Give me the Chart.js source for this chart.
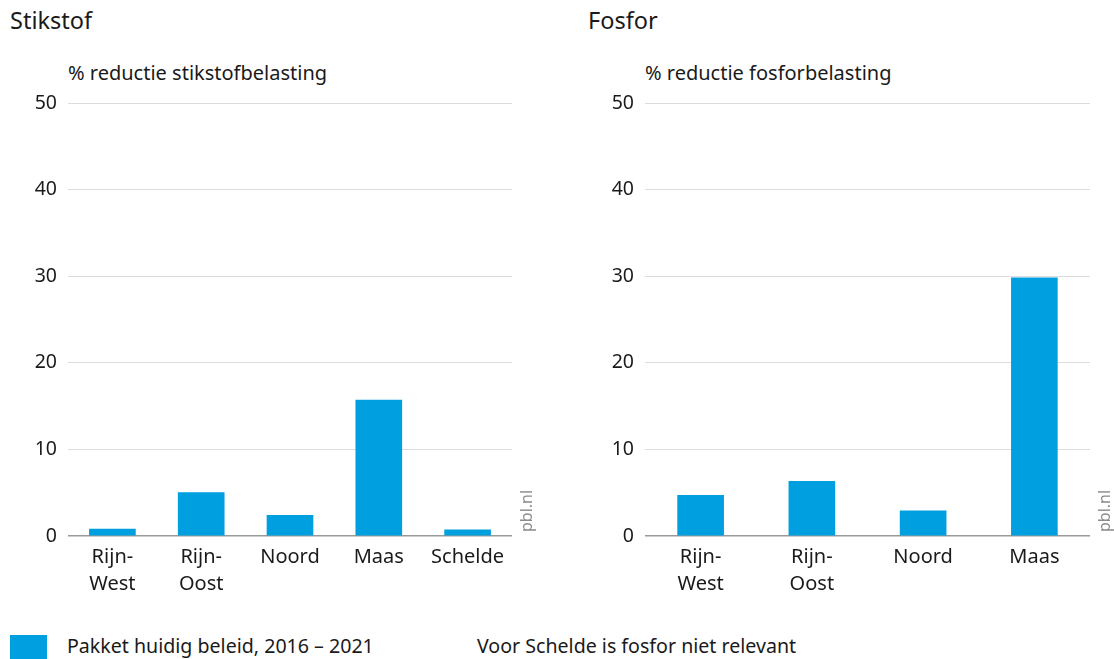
<!DOCTYPE html>
<html>
<head>
<meta charset="utf-8">
<script src="https://cdn.jsdelivr.net/npm/chart.js@4"></script>
<style>
  body { margin: 0; background: #fff; width: 1114px; height: 659px; overflow: hidden; position: relative;
         font-family: "Noto Sans", sans-serif; color: #1a1a1a; }
  .abs { position: absolute; white-space: nowrap; }
  .title { font-size: 23.5px; top: 4px; }
  .sub { font-size: 20px; top: 59px; }
  .leg { font-size: 19.6px; top: 632px; }
  #box1 { position: absolute; left: 0; top: 0; width: 560px; height: 600px; }
  #box2 { position: absolute; left: 577px; top: 0; width: 537px; height: 600px; }
  .swatch { position: absolute; left: 10px; top: 635px; width: 37px; height: 24px; background: #009fe0; }
</style>
</head>
<body>
<div class="abs title" style="left:10px">Stikstof</div>
<div class="abs title" style="left:588px">Fosfor</div>
<div class="abs sub" style="left:68px">% reductie stikstofbelasting</div>
<div class="abs sub" style="left:645px">% reductie fosforbelasting</div>
<div id="box1"><canvas id="stikstofChart"></canvas></div>
<div id="box2"><canvas id="fosforChart"></canvas></div>
<div class="swatch"></div>
<div class="abs leg" style="left:67px">Pakket huidig beleid, 2016 – 2021</div>
<div class="abs leg" style="left:477px">Voor Schelde is fosfor niet relevant</div>

<script>
// data
const stikstofLabels = [["Rijn-", "West"], ["Rijn-", "Oost"], "Noord", "Maas", "Schelde"];
const stikstofValues = [0.8, 5.0, 2.4, 15.7, 0.7];

const fosforLabels = [["Rijn-", "West"], ["Rijn-", "Oost"], "Noord", "Maas"];
const fosforValues = [4.7, 6.3, 2.9, 29.8];

const seriesName = "Pakket huidig beleid, 2016 – 2021";
const yTicks = [0, 10, 20, 30, 40, 50];

const BLUE = "#009fe0";
const FONT = "'Noto Sans', sans-serif";

// vertical "pbl.nl" credit to the right of the plot
const pblTag = {
  id: "pblTag",
  afterDraw(chart) {
    const { ctx, chartArea } = chart;
    ctx.save();
    ctx.translate(chartArea.right + 15, chartArea.bottom - 4);
    ctx.rotate(-Math.PI / 2);
    ctx.fillStyle = "#8c8c8c";
    ctx.font = "16px " + FONT;
    ctx.textAlign = "left";
    ctx.textBaseline = "middle";
    ctx.fillText("pbl.nl", 0, 0);
    ctx.restore();
  }
};

const makeChart = (id, labels, values, rightPad) => {
  new Chart(document.getElementById(id), {
    type: "bar",
    data: {
      labels: labels,
      datasets: [{
        label: seriesName,
        data: values,
        backgroundColor: BLUE,
        barThickness: 46
      }]
    },
    options: {
      responsive: true,
      maintainAspectRatio: false,
      animation: false,
      layout: { padding: { top: 103, right: rightPad, left: 0, bottom: 0 } },
      plugins: { legend: { display: false }, tooltip: { enabled: false } },
      scales: {
        x: {
          grid: { display: false },
          border: { display: false },
          ticks: { color: "#1a1a1a", font: { family: FONT, size: 20, lineHeight: 1.35 }, padding: 0, maxRotation: 0, autoSkip: false },
          afterFit: s => { s.height = 64; }
        },
        y: {
          min: 0,
          max: 50,
          afterBuildTicks: s => { s.ticks = yTicks.map(v => ({ value: v })); },
          grid: {
            drawTicks: false,
            color: c => c.tick && c.tick.value === 0 ? "#9a9a9a" : "#dcdcdc",
            lineWidth: c => c.tick && c.tick.value === 0 ? 1.5 : 1
          },
          border: { display: false },
          ticks: { color: "#1a1a1a", font: { family: FONT, size: 19.5 }, padding: 11 },
          afterFit: s => { s.width = 68; }
        }
      }
    },
    plugins: [pblTag]
  });
};

makeChart("stikstofChart", stikstofLabels, stikstofValues, 48);
makeChart("fosforChart", fosforLabels, fosforValues, 24);
</script>
</body>
</html>
